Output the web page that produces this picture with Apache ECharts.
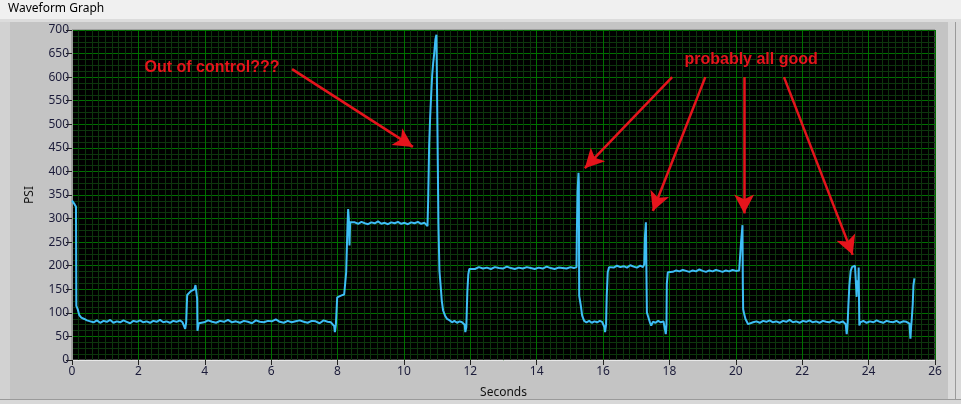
<!DOCTYPE html>
<html>
<head>
<meta charset="utf-8">
<script src="https://cdn.jsdelivr.net/npm/echarts@6/dist/echarts.min.js"></script>
<style>
html,body{margin:0;padding:0;background:#c4c4c4;}
#chart{width:961px;height:404px;}
</style>
</head>
<body>
<div id="chart"></div>
<script>
// ---- data (time in seconds, pressure in PSI) ----
const times = [
  0.00,0.03,0.06,0.08,0.10,0.12,0.13,0.17,0.22,0.28,0.37,0.45,0.55,
  0.65,0.75,0.85,0.95,1.05,1.15,1.25,1.35,1.45,1.55,1.65,1.75,1.85,1.95,2.05,2.15,2.25,2.35,2.45,2.55,2.65,2.75,2.85,2.95,3.05,3.15,3.25,3.33,3.38,3.41,3.44,
  3.47,3.52,3.58,3.64,3.69,3.72,3.74,3.77,3.78,3.82,
  3.86,3.98,4.10,4.22,4.34,4.46,4.58,4.70,4.82,4.94,5.06,5.18,5.30,5.42,5.54,5.66,5.78,5.90,6.02,6.14,6.26,6.38,6.50,6.62,6.74,6.86,6.98,7.10,7.22,7.34,7.46,7.58,7.70,7.80,7.86,
  7.90,7.92,7.95,7.99,8.05,8.12,8.20,8.24,8.26,8.30,8.32,8.34,8.36,8.38,
  8.42,8.52,8.62,8.72,8.82,8.92,9.02,9.12,9.22,9.32,9.42,9.52,9.62,9.72,9.82,9.92,10.02,10.12,10.22,10.32,10.42,10.52,10.62,10.68,
  10.71,10.72,10.73,10.76,10.79,10.82,10.85,10.88,10.91,10.93,10.95,10.98,11.00,11.02,
  11.04,11.07,11.11,11.14,11.18,11.24,11.30,11.38,
  11.45,11.52,11.60,11.68,11.75,11.79,11.83,11.85,11.88,11.91,11.94,11.97,
  12.02,12.14,12.26,12.38,12.50,12.62,12.74,12.86,12.98,13.10,13.22,13.34,13.46,13.58,13.70,13.82,13.94,14.06,14.18,14.30,14.42,14.54,14.66,14.78,14.90,15.02,15.12,15.18,
  15.20,15.21,15.23,15.26,15.27,15.28,15.33,15.37,15.43,
  15.50,15.58,15.66,15.74,15.82,15.90,15.97,16.01,16.04,16.06,16.09,16.11,16.14,16.18,
  16.22,16.32,16.42,16.52,16.62,16.72,16.82,16.92,17.02,17.12,17.20,17.24,
  17.26,17.29,17.32,17.35,17.41,17.45,
  17.50,17.58,17.66,17.74,17.82,17.86,17.89,17.91,17.92,17.95,
  18.00,18.10,18.20,18.30,18.40,18.50,18.60,18.70,18.80,18.90,19.00,19.10,19.20,19.30,19.40,19.50,19.60,19.70,19.80,19.90,20.00,20.10,20.14,
  20.16,20.20,20.21,20.22,20.25,20.29,20.37,20.43,
  20.52,20.62,20.72,20.82,20.92,21.02,21.12,21.22,21.32,21.42,21.52,21.62,21.72,21.82,21.92,22.02,22.12,22.22,22.32,22.42,22.52,22.62,22.72,22.82,22.92,23.02,23.12,23.22,23.28,
  23.31,23.34,23.37,23.39,23.42,23.46,23.50,23.55,23.59,23.62,23.64,23.66,23.69,23.70,23.72,
  23.75,23.84,23.94,24.04,24.14,24.24,24.34,24.44,24.54,24.64,24.74,24.84,24.94,25.04,25.14,25.20,
  25.23,25.26,25.28,25.30,25.33,25.35,25.38
];
const psi = [
  338,340,336,330,327,325,115,108,95,90,87,84,82,
  80,84,79,83,81,85,79,82,80,84,81,78,83,81,84,80,82,79,83,81,85,80,82,79,83,81,84,80,76,66,80,
  138,142,146,148,150,159,148,130,62,78,
  82,80,84,81,79,83,81,85,80,82,79,83,81,78,84,81,80,83,82,86,81,79,83,80,82,84,81,79,83,82,78,84,81,80,77,
  72,59,75,133,135,137,139,140,186,285,320,300,243,292,
  288,292,289,293,290,288,292,290,294,289,291,288,292,290,293,289,291,288,292,290,293,289,291,290,
  284,288,338,455,515,561,603,629,648,665,681,690,693,688,
  288,189,154,126,105,94,87,84,
  80,83,79,82,80,81,75,59,70,144,182,193,
  195,193,197,194,196,193,197,195,194,198,195,193,196,194,197,195,193,196,194,198,195,193,196,195,194,197,195,196,
  197,267,356,397,377,136,115,94,83,
  80,83,79,82,80,83,81,80,70,59,75,136,186,197,
  198,196,200,197,199,196,201,198,196,200,197,203,
  260,292,101,94,80,73,
  81,79,83,80,82,78,55,75,161,186,
  189,187,190,188,191,189,187,190,188,192,189,187,190,188,191,189,187,190,188,191,189,190,192,
  253,286,161,108,98,87,76,74,
  80,82,79,83,81,84,80,82,79,83,81,85,80,82,79,83,81,84,80,82,79,83,81,80,84,81,79,82,80,
  76,55,80,115,158,189,197,199,200,198,134,169,146,196,73,
  80,83,79,82,80,84,81,79,83,81,80,83,79,82,81,80,
  77,45,70,87,119,158,173
];
const xTicks = [0,2,4,6,8,10,12,14,16,18,20,22,24,26];
const yTicks = [0,50,100,150,200,250,300,350,400,450,500,550,600,650,700];
const noteTexts = ['Out of control???', 'probably all good'];
const noteAnchors = [[4.22, 621], [20.46, 638]];   // text centres (seconds, PSI)
const arrowStarts = [[6.63, 617], [18.08, 600], [19.08, 600], [20.25, 600], [21.45, 600]];
const arrowTips   = [[10.27, 452], [15.45, 407], [17.50, 316], [20.25, 311], [23.52, 223]];

const series = times.map((t, i) => [t, psi[i]]);
const red = '#e5141c';

const chart = echarts.init(document.getElementById('chart'), null, {renderer: 'canvas'});
chart.setOption({
  backgroundColor: '#c4c4c4',
  animation: false,
  graphic: [
    {type: 'rect', left: 0, top: 0, shape: {width: 961, height: 19}, style: {fill: '#f0f0f0'}, z: -10},
    {type: 'rect', left: 0, top: 19, shape: {width: 961, height: 3}, style: {fill: '#dcdcdc'}, z: -10},
    {type: 'rect', left: 0, top: 22, shape: {width: 10, height: 382}, style: {fill: '#d2d2d2'}, z: -10},
    {type: 'rect', left: 948, top: 22, shape: {width: 13, height: 382}, style: {fill: '#dadada'}, z: -10},
    {type: 'rect', left: 955, top: 22, shape: {width: 1, height: 382}, style: {fill: '#9a9a9a'}, z: -10},
    {type: 'rect', left: 0, top: 399, shape: {width: 961, height: 1}, style: {fill: '#9a9a9a'}, z: -10},
    {type: 'rect', left: 0, top: 400, shape: {width: 961, height: 4}, style: {fill: '#d8d8d8'}, z: -10},
    {type: 'text', left: 8, top: 3, style: {text: 'Waveform Graph', fill: '#000', font: '12px "Noto Sans", sans-serif'}}
  ],
  grid: {left: 72, right: 26, top: 30, bottom: 43, show: true, backgroundColor: '#000', borderColor: '#7a7a7a', borderWidth: 1},
  xAxis: {
    type: 'value', min: 0, max: 26, interval: 2,
    name: 'Seconds', nameLocation: 'middle', nameGap: 27,
    nameTextStyle: {color: '#111', fontSize: 12, fontFamily: 'Noto Sans'},
    axisLine: {show: true, lineStyle: {color: '#e8e8e8', width: 1}},
    axisTick: {show: true, length: 5, lineStyle: {color: '#222'}},
    axisLabel: {color: '#1c1c3a', fontSize: 12, fontFamily: 'Noto Sans', margin: 6,
      formatter: v => xTicks.includes(v) ? String(v) : ''},
    splitLine: {show: true, lineStyle: {color: '#007000', width: 1}},
    minorTick: {show: false, splitNumber: 10},
    minorSplitLine: {show: true, lineStyle: {color: '#0d360d', width: 1}}
  },
  yAxis: {
    type: 'value', min: 0, max: 700, interval: 50,
    name: 'PSI', nameLocation: 'middle', nameGap: 36, nameRotate: 90,
    nameTextStyle: {color: '#111', fontSize: 12, fontFamily: 'Noto Sans'},
    axisLine: {show: true, lineStyle: {color: '#9a9a9a', width: 1}},
    axisTick: {show: true, length: 6, lineStyle: {color: '#222'}},
    axisLabel: {color: '#1c1c3a', fontSize: 12, fontFamily: 'Noto Sans', margin: 3,
      formatter: v => yTicks.includes(v) ? String(v) : ''},
    splitLine: {show: true, lineStyle: {color: '#007000', width: 1}},
    minorTick: {show: false, splitNumber: 4},
    minorSplitLine: {show: true, lineStyle: {color: '#0d360d', width: 1}}
  },
  series: [{
    type: 'line',
    data: series,
    showSymbol: false,
    symbol: 'none',
    lineStyle: {color: '#3ebdf5', width: 2},
    markLine: {
      silent: true,
      symbol: ['none', 'arrow'],
      symbolSize: 18,
      label: {show: false},
      lineStyle: {color: red, width: 2.5, type: 'solid'},
      data: arrowStarts.map((s, i) => [
        {coord: s, symbol: 'none'},
        {coord: arrowTips[i], symbol: 'arrow', symbolSize: [15, 19]}
      ])
    },
    markPoint: {
      silent: true,
      symbol: 'circle',
      symbolSize: 0,
      data: noteAnchors.map((c, i) => ({
        coord: c,
        label: {show: true, position: 'inside', formatter: noteTexts[i], color: red,
          fontSize: 16, fontWeight: 'bold', fontFamily: 'Liberation Sans'}
      }))
    }
  }]
});
</script>
</body>
</html>
